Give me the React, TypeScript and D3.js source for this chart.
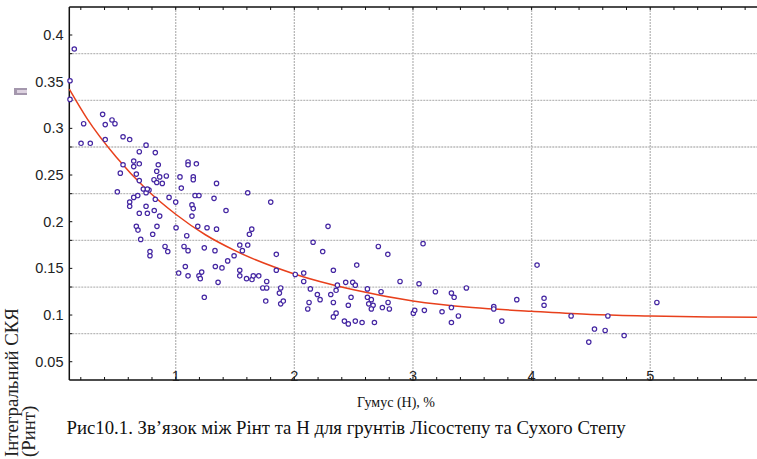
import React from "react";
import * as d3 from "d3";

// Scatter data: humus content H (%) and integral index P_int
const humus = [
  0.145,0.109,0.109,0.384,0.224,0.406,0.463,0.488,0.202,0.280,
  0.406,0.556,0.612,0.750,0.693,0.828,0.853,0.646,0.646,0.693,
  0.556,0.533,0.668,0.840,0.865,0.817,0.840,0.887,0.921,0.693,
  0.727,0.775,0.750,0.761,0.828,0.508,0.646,0.680,0.944,1.036,
  1.047,1.104,1.104,1.174,1.148,1.148,1.344,1.163,1.196,1.323,
  1.607,0.612,0.612,0.750,0.819,0.693,0.761,0.865,1.000,1.137,
  1.148,1.137,1.424,0.668,0.682,0.842,0.705,0.806,1.003,1.186,
  1.264,1.344,1.093,1.070,1.104,1.241,1.331,0.910,0.933,0.783,
  0.783,1.081,1.025,1.104,1.196,1.207,1.219,1.334,1.357,1.390,
  1.438,1.492,1.540,1.562,1.607,1.621,1.641,1.540,1.540,1.597,
  1.643,1.654,1.700,1.241,1.801,1.848,1.848,1.767,1.734,1.767,
  1.759,1.885,1.874,1.885,1.907,2.158,2.239,2.284,2.008,2.079,
  2.079,2.135,2.194,2.217,2.124,2.113,2.329,2.363,2.352,2.307,
  2.329,2.352,2.329,2.422,2.455,2.433,2.492,2.514,2.526,2.478,
  2.455,2.514,2.571,2.616,2.616,2.649,2.627,2.664,2.649,2.675,
  2.731,2.742,2.790,2.801,2.708,2.788,2.891,3.003,3.015,3.085,
  3.051,3.096,3.189,3.245,3.324,3.347,3.324,3.324,3.383,3.450,
  3.681,3.681,3.749,3.875,4.046,4.105,4.105,4.333,4.482,4.530,
  4.620,4.643,4.780,5.056,
];

const rint = [
  0.385,0.351,0.331,0.315,0.305,0.304,0.309,0.305,0.284,0.284,
  0.288,0.291,0.288,0.282,0.275,0.274,0.261,0.265,0.259,0.262,
  0.261,0.252,0.251,0.254,0.248,0.245,0.242,0.241,0.249,0.244,
  0.235,0.234,0.231,0.235,0.224,0.232,0.226,0.228,0.226,0.248,
  0.236,0.264,0.261,0.262,0.248,0.245,0.241,0.228,0.228,0.225,
  0.231,0.221,0.2165,0.2165,0.212,0.209,0.209,0.206,0.221,0.218,
  0.214,0.206,0.212,0.195,0.191,0.195,0.181,0.1865,0.1935,0.195,
  0.1935,0.192,0.185,0.1735,0.169,0.172,0.169,0.1735,0.168,0.168,
  0.1635,0.152,0.145,0.142,0.142,0.139,0.146,0.152,0.135,0.1505,
  0.158,0.1635,0.175,0.169,0.175,0.1865,0.192,0.148,0.142,0.139,
  0.138,0.142,0.142,0.119,0.221,0.165,0.148,0.136,0.129,0.129,
  0.115,0.129,0.1235,0.112,0.115,0.178,0.168,0.195,0.1435,0.145,
  0.136,0.128,0.122,0.1165,0.1135,0.1065,0.148,0.132,0.1265,0.122,
  0.1135,0.102,0.098,0.0935,0.0905,0.135,0.135,0.132,0.1535,0.119,
  0.1105,0.0935,0.092,0.128,0.119,0.1165,0.112,0.1105,0.1065,0.092,
  0.125,0.108,0.1135,0.1065,0.1735,0.165,0.136,0.102,0.105,0.1765,
  0.1335,0.105,0.125,0.1035,0.1235,0.119,0.108,0.092,0.099,0.129,
  0.109,0.1065,0.0935,0.1165,0.1535,0.118,0.1105,0.099,0.071,0.085,
  0.0835,0.099,0.078,0.1135,
];

// Fitted curve
const fitX = [0.103, 0.25, 0.5, 0.75, 1, 1.25, 1.5, 2, 2.5, 3, 3.5, 4, 4.5, 5, 5.5, 5.9];
const fitY = [0.342, 0.311, 0.269, 0.235, 0.208, 0.186, 0.169, 0.144, 0.127, 0.115, 0.108, 0.104, 0.1005, 0.099, 0.098, 0.0975];

const xTickValues = [1, 2, 3, 4, 5];
const yTickValues = [0.05, 0.1, 0.15, 0.2, 0.25, 0.3, 0.35, 0.4];
const yGridValues = [0.08, 0.13, 0.18, 0.23, 0.28, 0.33, 0.38];

const xTitle = "Гумус (Н), %";
const yTitle1 = "Інтегральний СКЯ";
const yTitle2 = "(Ринт)";
const caption = "Рис10.1. Зв’язок між Рінт та Н для грунтів Лісостепу та Сухого Степу";

const W = 757;
const H = 459;
const L = 69.3;
const R = 757;
const T = 7;
const B = 380;

export default function App() {
  const x = d3.scaleLinear().domain([0.103, 5.9]).range([L, R]);
  const y = d3.scaleLinear().domain([0.0304, 0.43]).range([B, T]);

  const line = d3
    .line<number>()
    .x((_, i) => x(fitX[i]))
    .y((d) => y(d))
    .curve(d3.curveMonotoneX);

  const minorX = d3.range(0.2, 5.95, 0.2).filter((v) => x(v) > L + 1);
  const yMinor = [...yTickValues, ...yGridValues];
  const grid = "#b9b9b9";
  const sans = "'Liberation Sans', Arial, sans-serif";
  const serif = "'Liberation Serif', 'Times New Roman', serif";

  return (
    <svg
      width={W}
      height={H}
      style={{ position: "absolute", left: 0, top: 0, background: "#fff" }}
    >
      <rect x={0} y={0} width={W} height={H} fill="#fff" />
      {/* grid */}
      {yGridValues.map((v) => (
        <line key={"gy" + v} x1={L} x2={R} y1={y(v)} y2={y(v)} stroke={grid} strokeWidth={1.3} strokeDasharray="2 1" />
      ))}
      {xTickValues.map((v) => (
        <line key={"gx" + v} x1={x(v)} x2={x(v)} y1={T} y2={B} stroke={grid} strokeWidth={1.3} strokeDasharray="2 1" />
      ))}

      {/* frame */}
      <line x1={L} x2={R} y1={T} y2={T} stroke="#111" strokeWidth={1.5} />
      <line x1={L} x2={R} y1={B} y2={B} stroke="#111" strokeWidth={1.5} />
      <line x1={L} x2={L} y1={T} y2={B} stroke="#111" strokeWidth={1.5} />
      {minorX.map((v) => (
        <g key={"mx" + v}>
          <line x1={x(v)} x2={x(v)} y1={B} y2={B - 3} stroke="#111" strokeWidth={1} />
          <line x1={x(v)} x2={x(v)} y1={T} y2={T + 3} stroke="#111" strokeWidth={1} />
        </g>
      ))}
      {yMinor.map((v) => (
        <line key={"my" + v} x1={L} x2={L + 3} y1={y(v)} y2={y(v)} stroke="#111" strokeWidth={1} />
      ))}

      {/* tick labels */}
      {yTickValues.map((v) => (
        <text key={"ty" + v} x={63.5} y={y(v)} dy="0.35em" textAnchor="end" fontFamily={sans} fontSize={14.5} fill="#222">
          {String(v)}
        </text>
      ))}
      {xTickValues.map((v) => (
        <text key={"tx" + v} x={x(v)} y={B + 1} textAnchor="middle" fontFamily={sans} fontSize={14.5} fill="#222">
          {String(v)}
        </text>
      ))}

      {/* fit curve */}
      <path d={line(fitY) || ""} fill="none" stroke="#e8401c" strokeWidth={1.5} />

      {/* points */}
      {humus.map((h, i) => (
        <circle key={"p" + i} cx={x(h)} cy={y(rint[i])} r={2.2} fill="#fff" stroke="#4426a2" strokeWidth={1.2} />
      ))}

      {/* small legend glyph */}
      <rect x={14} y={88} width={13} height={7} fill="#a497ad" />
      <rect x={17} y={90} width={10} height={3} fill="#ddd2e0" />

      {/* titles */}
      <text x={396} y={407} textAnchor="middle" fontFamily={serif} fontSize={14} fill="#111">
        {xTitle}
      </text>
      <text x={66.5} y={434} fontFamily={serif} fontSize={18.8} fill="#111">
        {caption}
      </text>
      <text transform="translate(17.5,457) rotate(-90)" fontFamily={serif} fontSize={18.8} fill="#222">
        {yTitle1}
      </text>
      <text transform="translate(35,457) rotate(-90)" fontFamily={serif} fontSize={18.8} fill="#222">
        {yTitle2}
      </text>
    </svg>
  );
}
